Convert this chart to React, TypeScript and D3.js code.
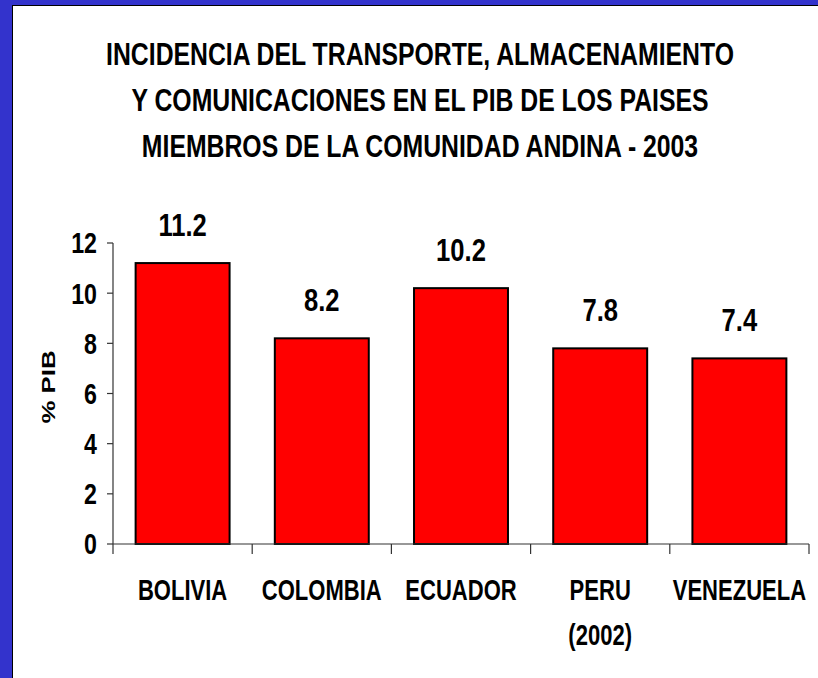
import React from 'react';
import * as d3 from 'd3';

const countries = ['BOLIVIA', 'COLOMBIA', 'ECUADOR', 'PERU', 'VENEZUELA'];
const subLabels = ['', '', '', '(2002)', ''];
const values = [11.2, 8.2, 10.2, 7.8, 7.4];
const yTicks = [0, 2, 4, 6, 8, 10, 12];
const titleLines = [
  'INCIDENCIA DEL TRANSPORTE, ALMACENAMIENTO',
  'Y COMUNICACIONES EN EL PIB DE LOS PAISES',
  'MIEMBROS DE LA COMUNIDAD ANDINA - 2003',
];

const W = 818;
const H = 678;
const FONT = '"Liberation Sans", Arial, sans-serif';
// no Arial Narrow here, so squeeze the bold face horizontally
const SQUEEZE = 0.8;

interface NarrowProps {
  x: number;
  y: number;
  size: number;
  anchor?: 'start' | 'middle' | 'end';
  sx?: number;
  dy?: string;
  children: React.ReactNode;
}

const Narrow: React.FC<NarrowProps> = ({ x, y, size, anchor = 'middle', sx = SQUEEZE, dy, children }) => (
  <g transform={`translate(${x},${y}) scale(${sx},1)`}>
    <text textAnchor={anchor} dy={dy} fontFamily={FONT} fontWeight="bold" fontSize={size}>
      {children}
    </text>
  </g>
);

const App: React.FC = () => {
  const margin = { left: 113, right: 9, top: 243, bottom: 134 };

  const x = d3
    .scaleBand<string>()
    .domain(countries)
    .range([margin.left, W - margin.right])
    .paddingInner(0.325)
    .paddingOuter(0.1625);

  const y = d3.scaleLinear().domain([0, 12]).range([H - margin.bottom, margin.top]);

  const step = x.step();
  const x0 = margin.left;
  const x1 = W - margin.right;
  const yBase = y(0);
  const cx = (c: string) => (x(c) ?? 0) + x.bandwidth() / 2;

  return (
    <div style={{ position: 'absolute', left: 0, top: 0 }}>
      <svg width={W} height={H} style={{ display: 'block' }}>
        <rect x={0} y={0} width={W} height={H} fill="#3333cc" />
        <rect x={12} y={5} width={W - 12} height={H - 5} fill="#ffffff" />
        <line x1={12.5} y1={5} x2={12.5} y2={H} stroke="#000" strokeWidth={1} />
        <line x1={12} y1={5.5} x2={W} y2={5.5} stroke="#000" strokeWidth={1} />

        {/* title */}
        {titleLines.map((t, i) => (
          <Narrow key={t} x={420} y={65 + i * 46} size={32} sx={0.775}>
            {t}
          </Narrow>
        ))}

        {/* y axis */}
        <line x1={x0} y1={y(12)} x2={x0} y2={yBase} stroke="#333" strokeWidth={1.2} />
        {yTicks.map(t => (
          <g key={t}>
            <line x1={x0 - 6} y1={y(t)} x2={x0} y2={y(t)} stroke="#333" strokeWidth={1.2} />
            <Narrow x={97} y={y(t)} size={29} anchor="end" dy="0.36em">
              {t}
            </Narrow>
          </g>
        ))}

        {/* bars */}
        {countries.map((c, i) => (
          <rect
            key={c}
            x={x(c)}
            y={y(values[i])}
            width={x.bandwidth()}
            height={yBase - y(values[i])}
            fill="#ff0000"
            stroke="#000"
            strokeWidth={2}
          />
        ))}

        {/* x axis */}
        <line x1={x0} y1={yBase} x2={x1} y2={yBase} stroke="#333" strokeWidth={1.2} />
        {d3.range(countries.length + 1).map(i => (
          <line
            key={i}
            x1={x0 + i * step}
            y1={yBase}
            x2={x0 + i * step}
            y2={yBase + 10}
            stroke="#333"
            strokeWidth={1.2}
          />
        ))}

        {/* value labels */}
        {countries.map((c, i) => (
          <Narrow key={c} x={cx(c)} y={y(values[i]) - 27} size={32}>
            {values[i].toFixed(1)}
          </Narrow>
        ))}

        {/* category labels */}
        {countries.map((c, i) => (
          <g key={c}>
            <Narrow x={cx(c)} y={600} size={29} sx={0.76}>
              {c}
            </Narrow>
            {subLabels[i] && (
              <Narrow x={cx(c)} y={645} size={29} sx={0.76}>
                {subLabels[i]}
              </Narrow>
            )}
          </g>
        ))}

        {/* y axis title */}
        <text
          transform={`translate(55, 387) rotate(-90)`}
          textAnchor="middle"
          fontFamily={FONT}
          fontWeight="bold"
          fontSize={18}
          textLength={73}
          lengthAdjust="spacingAndGlyphs"
        >
          % PIB
        </text>
      </svg>
    </div>
  );
};

export default App;
